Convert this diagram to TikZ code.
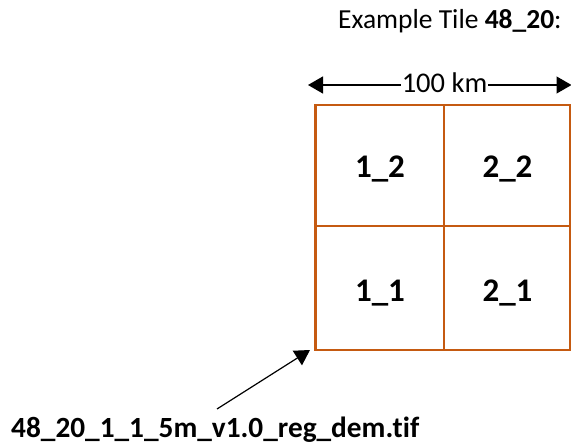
\documentclass[tikz,border=0pt]{standalone}
\usepackage{fontspec}
\setmainfont{Carlito}[Ligatures={NoCommon,NoRare,NoContextual}]
\usetikzlibrary{arrows.meta}
\definecolor{tileorange}{HTML}{C55A11}
\begin{document}
\begin{tikzpicture}[x=1pt,y=-1pt,
  lbl/.style={inner sep=0pt,font=\fontsize{27.5}{32}\selectfont},
  cell/.style={inner sep=0pt,font=\fontsize{33}{39}\selectfont\bfseries},
  grid/.style={draw=tileorange,line width=2.6pt},
  arr/.style={line width=1.2pt,-{Triangle[length=15pt,width=17pt]}}]
\useasboundingbox (0,0) rectangle (571,444);
% title
\node[lbl,anchor=base west] (title) at (338,29) {Example Tile \textbf{48\_20}:};
% scale
\node[lbl,anchor=base,inner xsep=1pt,font=\fontsize{28.5}{33}\selectfont] (km) at (444.5,92.5) {100 km};
\coordinate (L) at (308,85);
\coordinate (R) at (571.5,85);
\draw[arr] (km.west |- L) -- (L);
\draw[arr] (km.east |- R) -- (R);
% tile grid
\coordinate (sw) at (315.3,349.8);
\coordinate (ne) at (570.3,105.2);
\draw[grid] (sw) rectangle (ne);
\draw[grid] (443.8,105.2) -- (443.8,349.8);
\draw[grid] (315.3,225.8) -- (570.3,225.8);
\node[cell,anchor=base] (c12) at (380,178) {1\_2};
\node[cell,anchor=base] (c22) at (507.5,178) {2\_2};
\node[cell,anchor=base] (c11) at (380,301) {1\_1};
\node[cell,anchor=base] (c21) at (507.5,301) {2\_1};
% file label
\node[lbl,anchor=base west,font=\fontsize{29.3}{34}\selectfont\bfseries] (file) at (11,437.5) {48\_20\_1\_1\_5m\_v1.0\_reg\_dem.t\kern0pt i\kern0pt f};
\coordinate (A) at (217,409);
\coordinate (B) at (310,350);
\draw[arr] (A) -- (B);
\end{tikzpicture}
\end{document}
